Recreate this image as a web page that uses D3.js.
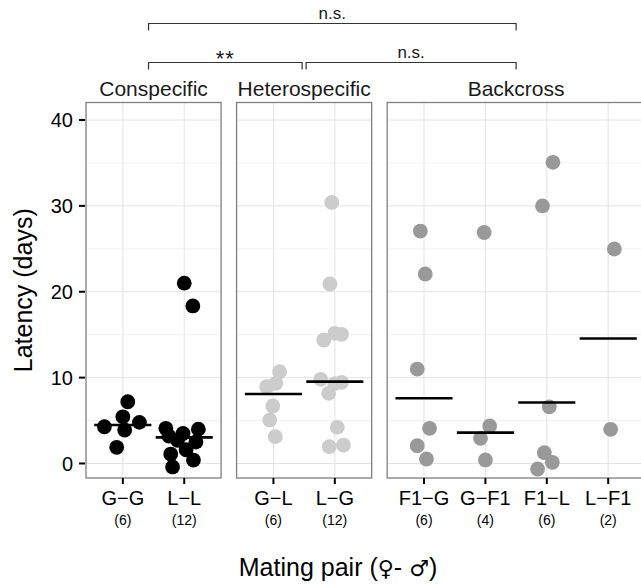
<!DOCTYPE html>
<html>
<head>
<meta charset="utf-8">
<script src="https://cdn.jsdelivr.net/npm/d3@7"></script>
<style>
  body { margin: 0; background: #fff; }
  svg { display: block; font-family: "Liberation Sans", Arial, Helvetica, sans-serif; }
</style>
</head>
<body>
<svg id="chart" width="641" height="587"></svg>
<script>
// groups (facets) and mating pairs in each
const groups = ["Conspecific", "Heterospecific", "Backcross"];
const pairs = [
  ["G\u2212G", "L\u2212L"],
  ["G\u2212L", "L\u2212G"],
  ["F1\u2212G", "G\u2212F1", "F1\u2212L", "L\u2212F1"]
];
const groupColors = ["#000000", "#cccccc", "#999999"];

// latency (days) per pair, with the jitter of each point (in category units)
const latency = {
  "G\u2212G":  [4.28, 5.44, 7.19, 3.9, 4.79, 1.88],
  "L\u2212L":  [21.0, 18.35, 4.1, 3.5, 4.0, 3.2, 2.5, 2.7, 1.1, 1.6, 0.4, -0.4],
  "G\u2212L":  [10.69, 8.94, 9.34, 6.7, 5.07, 3.12],
  "L\u2212G":  [30.4, 20.9, 14.38, 15.16, 15.04, 9.8, 9.45, 9.3, 8.17, 4.21, 1.96, 2.15],
  "F1\u2212G": [27.07, 22.07, 11.0, 4.1, 2.07, 0.52],
  "G\u2212F1": [26.9, 4.37, 2.93, 0.41],
  "F1\u2212L": [35.07, 29.99, 6.6, 1.26, 0.14, -0.64],
  "L\u2212F1": [24.98, 3.98]
};
const jitter = {
  "G\u2212G":  [-0.30, 0, 0.08, 0.03, 0.27, -0.10],
  "L\u2212L":  [0, 0.14, -0.30, -0.02, 0.23, -0.25, 0.19, -0.11, -0.22, 0.03, 0.15, -0.19],
  "G\u2212L":  [0.10, -0.11, 0.04, -0.01, -0.06, 0.03],
  "L\u2212G":  [-0.05, -0.08, -0.18, 0, 0.11, -0.23, 0.11, 0, -0.10, 0.04, -0.09, 0.14],
  "F1\u2212G": [-0.06, 0.02, -0.11, 0.09, -0.11, 0.04],
  "G\u2212F1": [-0.02, 0.07, -0.08, 0],
  "F1\u2212L": [0.10, -0.07, 0.04, -0.04, 0.09, -0.15],
  "L\u2212F1": [0.10, 0.04]
};
// horizontal centre line per pair
const centre = {
  "G\u2212G": 4.48, "L\u2212L": 3.04, "G\u2212L": 8.09, "L\u2212G": 9.53,
  "F1\u2212G": 7.59, "G\u2212F1": 3.59, "F1\u2212L": 7.1, "L\u2212F1": 14.55
};

const yTicks = [0, 10, 20, 30, 40];
const yMinor = [5, 15, 25, 35];

// significance brackets between groups
const brackets = [
  { from: 0, to: 2, label: "n.s.", level: 0 },
  { from: 0, to: 1, label: "**", level: 1 },
  { from: 1, to: 2, label: "n.s.", level: 1 }
];

const svg = d3.select("#chart");

const panelTop = 102.5, panelBottom = 478, left = 86, unit = 61.4, gap = 15.5;
const y = d3.scaleLinear().domain([-1.69, 42.04]).range([panelBottom, panelTop]);

// panel extents
let x0 = left;
const panels = groups.map(function(g, i) {
  const w = unit * (pairs[i].length + 0.2);
  const p = { name: g, i: i, x0: x0, x1: x0 + w };
  p.x = d3.scalePoint().domain(pairs[i]).range([p.x0, p.x1]).padding(0.6);
  x0 += w + gap;
  return p;
});

panels.forEach(function(p) {
  const g = svg.append("g");
  const w = p.x1 - p.x0;

  g.append("rect")
    .attr("x", p.x0).attr("y", panelTop)
    .attr("width", w).attr("height", panelBottom - panelTop)
    .attr("fill", "#fff");

  // minor grid
  g.selectAll("line.minor").data(yMinor).enter().append("line")
    .attr("x1", p.x0).attr("x2", p.x1)
    .attr("y1", d => y(d)).attr("y2", d => y(d))
    .attr("stroke", "#f2f2f2").attr("stroke-width", 1);
  // major grid
  g.selectAll("line.major").data(yTicks).enter().append("line")
    .attr("x1", p.x0).attr("x2", p.x1)
    .attr("y1", d => y(d)).attr("y2", d => y(d))
    .attr("stroke", "#e3e3e3").attr("stroke-width", 1);
  g.selectAll("line.vgrid").data(pairs[p.i]).enter().append("line")
    .attr("x1", d => p.x(d)).attr("x2", d => p.x(d))
    .attr("y1", panelTop).attr("y2", panelBottom)
    .attr("stroke", "#e3e3e3").attr("stroke-width", 1);

  // points
  pairs[p.i].forEach(function(pr) {
    g.selectAll(null).data(latency[pr]).enter().append("circle")
      .attr("cx", (d, k) => p.x(pr) + jitter[pr][k] * unit)
      .attr("cy", d => y(d))
      .attr("r", 7.4)
      .attr("fill", groupColors[p.i]);
  });

  // centre lines
  g.selectAll("line.mid").data(pairs[p.i]).enter().append("line")
    .attr("x1", d => p.x(d) - 0.465 * unit)
    .attr("x2", d => p.x(d) + 0.465 * unit)
    .attr("y1", d => y(centre[d])).attr("y2", d => y(centre[d]))
    .attr("stroke", "#000").attr("stroke-width", 2.6);

  // border
  g.append("rect")
    .attr("x", p.x0).attr("y", panelTop)
    .attr("width", w).attr("height", panelBottom - panelTop)
    .attr("fill", "none").attr("stroke", "#7f7f7f").attr("stroke-width", 1.3);

  // strip text
  g.append("text")
    .attr("x", (p.x0 + p.x1) / 2).attr("y", panelTop - 7)
    .attr("text-anchor", "middle")
    .attr("font-size", 21).attr("fill", "#1a1a1a")
    .text(p.name);

  // x ticks and labels
  const xt = g.selectAll("g.xt").data(pairs[p.i]).enter().append("g")
    .attr("transform", d => "translate(" + p.x(d) + ",0)");
  xt.append("line")
    .attr("y1", panelBottom).attr("y2", panelBottom + 6)
    .attr("stroke", "#000").attr("stroke-width", 2);
  xt.append("text")
    .attr("y", panelBottom + 27).attr("text-anchor", "middle")
    .attr("font-size", 20).attr("fill", "#000")
    .text(d => d);
  xt.append("text")
    .attr("y", panelBottom + 47).attr("text-anchor", "middle")
    .attr("font-size", 14).attr("fill", "#000")
    .text(d => "(" + latency[d].length + ")");
});

// y axis
const yAxis = svg.append("g");
yAxis.selectAll("line").data(yTicks).enter().append("line")
  .attr("x1", left - 7).attr("x2", left - 1)
  .attr("y1", d => y(d)).attr("y2", d => y(d))
  .attr("stroke", "#000").attr("stroke-width", 2);
yAxis.selectAll("text").data(yTicks).enter().append("text")
  .attr("x", left - 13).attr("y", d => y(d)).attr("dy", "0.36em")
  .attr("text-anchor", "end").attr("font-size", 20)
  .text(d => d);

svg.append("text")
  .attr("transform", "translate(32," + (panelTop + panelBottom) / 2 + ") rotate(-90)")
  .attr("text-anchor", "middle").attr("font-size", 25)
  .text("Latency (days)");

const xTitle = svg.append("text")
  .attr("x", 338).attr("y", 576)
  .attr("text-anchor", "middle").attr("font-size", 25);
xTitle.append("tspan").text("Mating pair (");
xTitle.append("tspan").attr("font-family", "DejaVu Sans").attr("font-size", 22).text("\u2640");
xTitle.append("tspan").text("- ");
xTitle.append("tspan").attr("font-family", "DejaVu Sans").attr("font-size", 22).text("\u2642");
xTitle.append("tspan").text(")");

// brackets
const levelY = [23.5, 62.5];
brackets.forEach(function(b) {
  const pa = panels[b.from], pb = panels[b.to];
  let xa = (pa.x0 + pa.x1) / 2, xb = (pb.x0 + pb.x1) / 2;
  if (b.from === 0) xa -= 5;
  if (b.level === 1) {
    if (b.from === 1) xa += 2;
    if (b.to === 1) xb -= 2;
  }
  const yy = levelY[b.level];
  svg.append("path")
    .attr("d", "M" + xa + "," + (yy + 7) + "V" + yy + "H" + xb + "V" + (yy + 7))
    .attr("fill", "none").attr("stroke", "#333").attr("stroke-width", 1.2);
  const stars = b.label === "**";
  svg.append("text")
    .attr("x", (xa + xb) / 2).attr("y", stars ? yy + 3 : yy - 5)
    .attr("text-anchor", "middle").attr("font-size", stars ? 22 : 17).attr("fill", "#1a1a1a")
    .attr("letter-spacing", stars ? 1 : 0)
    .text(b.label);
});
</script>
</body>
</html>
